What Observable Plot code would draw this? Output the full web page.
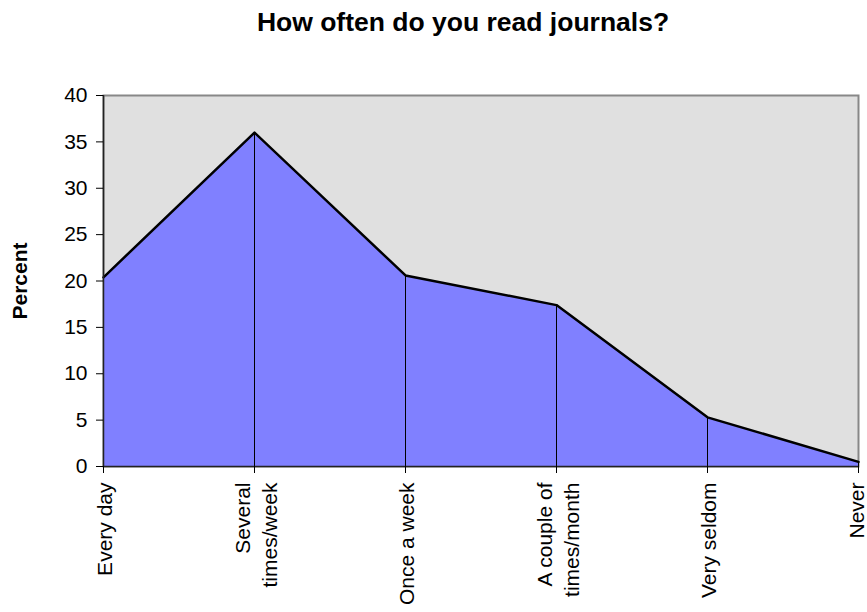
<!DOCTYPE html>
<html>
<head>
<meta charset="utf-8">
<script src="https://cdn.jsdelivr.net/npm/d3@7"></script>
<script src="https://cdn.jsdelivr.net/npm/@observablehq/plot@0.6"></script>
<style>
  html, body { margin: 0; padding: 0; background: #fff; }
</style>
</head>
<body>
<div id="chart"></div>
<script>
const title = "How often do you read journals?";
const yLabel = "Percent";
const categories = ["Every day", "Several times/week", "Once a week", "A couple of times/month", "Very seldom", "Never"];
const tickLabels = ["Every day", "Several\ntimes/week", "Once a week", "A couple of\ntimes/month", "Very seldom", "Never"];
const percents = [20.4, 36.0, 20.6, 17.4, 5.3, 0.5];
const yTicks = [0, 5, 10, 15, 20, 25, 30, 35, 40];

const data = categories.map((c, i) => ({cat: c, label: tickLabels[i], v: percents[i]}));
const lastCat = categories[categories.length - 1];

const labelOpts = {x: "cat", frameAnchor: "bottom", text: "label", rotate: -90, textAnchor: "end", lineAnchor: "middle", lineHeight: 1.3, dy: 16, fontSize: 21, fill: "#000"};

const chart = Plot.plot({
  width: 867,
  height: 612,
  marginLeft: 103,
  marginRight: 9,
  marginTop: 95,
  marginBottom: 146,
  style: {fontFamily: "'Liberation Sans', Arial, sans-serif", background: "#fff", color: "#000"},
  x: {type: "point", domain: categories, padding: 0, axis: null},
  y: {domain: [0, 40], ticks: yTicks, axis: null},
  marks: [
    Plot.frame({fill: "#e0e0e0", stroke: "#888", strokeWidth: 2}),
    Plot.areaY(data, {x: "cat", y: "v", fill: "#8080ff"}),
    Plot.ruleX(data, {x: "cat", y1: 0, y2: "v", stroke: "#000", strokeWidth: 1}),
    Plot.lineY(data, {x: "cat", y: "v", stroke: "#000", strokeWidth: 2.5}),
    Plot.ruleX([categories[0]], {stroke: "#222", strokeWidth: 1.5}),
    Plot.ruleY([0], {stroke: "#222", strokeWidth: 1.5}),
    Plot.axisY({ticks: yTicks, tickSize: 7, tickPadding: 9, fontSize: 21, label: null, stroke: "#000"}),
    Plot.axisX({tickSize: 7, tickFormat: () => "", label: null, stroke: "#000"}),
    Plot.text(data.filter(d => d.cat !== lastCat), labelOpts),
    Plot.text(data.filter(d => d.cat === lastCat), {...labelOpts, dx: -3}),
    Plot.text([yLabel], {frameAnchor: "left", dx: -83, rotate: -90, textAnchor: "middle", lineAnchor: "middle", fontSize: 21, fontWeight: "bold", fill: "#000"}),
    Plot.text([title], {frameAnchor: "top", dx: -18, dy: -73, textAnchor: "middle", lineAnchor: "middle", fontSize: 26.5, fontWeight: "bold", fill: "#000"})
  ]
});
document.getElementById("chart").appendChild(chart);
</script>
</body>
</html>
